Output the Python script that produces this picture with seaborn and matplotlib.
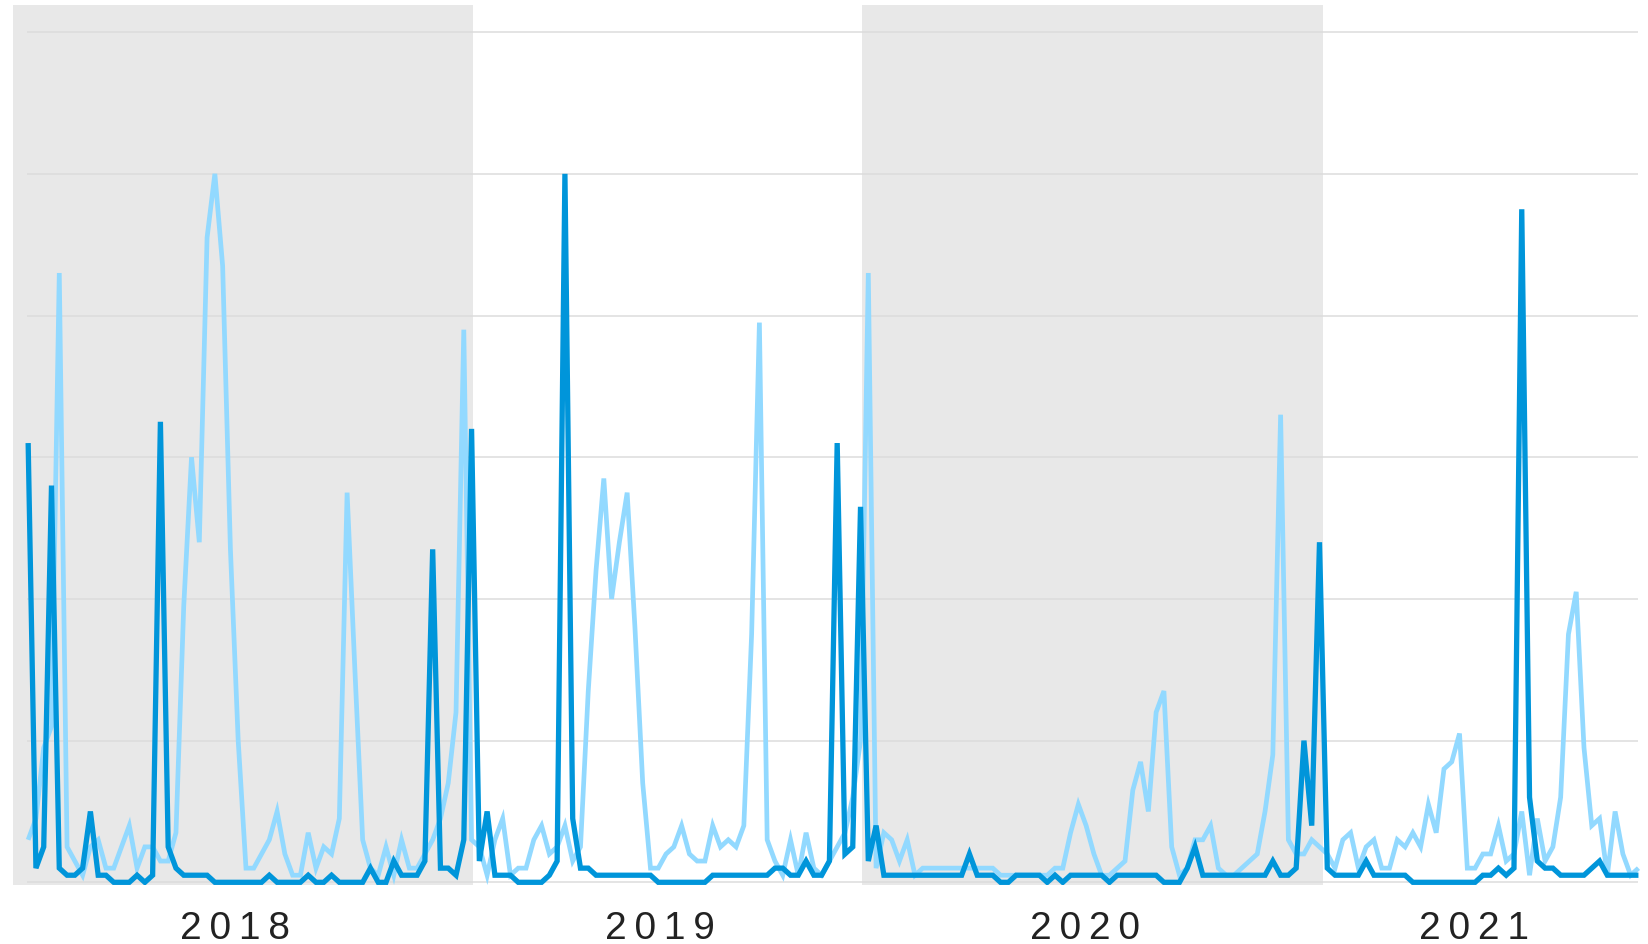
import numpy as np
import pandas as pd
import matplotlib
matplotlib.use("Agg")
import matplotlib.pyplot as plt
import matplotlib.transforms as mtransforms
import seaborn as sns

# weekly interest (0-100), one value per week
light_series = [
    6, 9, 19, 22, 86, 5, 3, 1, 5, 6,
    2, 2, 5, 8, 2, 5, 5, 3, 3, 7,
    39, 60, 48, 91, 100, 87, 47, 20, 2, 2,
    4, 6, 10, 4, 1, 1, 7, 2, 5, 4,
    9, 55, 30, 6, 2, 1, 5, 1, 6, 2,
    2, 4, 6, 9, 14, 24, 78, 6, 5, 1,
    6, 9, 1, 2, 2, 6, 8, 4, 5, 8,
    3, 5, 27, 44, 57, 40, 48, 55, 36, 14,
    2, 2, 4, 5, 8, 4, 3, 3, 8, 5,
    6, 5, 8, 35, 79, 6, 3, 1, 6, 1,
    7, 2, 1, 3, 5, 7, 12, 20, 86, 2,
    7, 6, 3, 6, 1, 2, 2, 2, 2, 2,
    2, 2, 2, 2, 2, 1, 1, 1, 1, 1,
    1, 1, 2, 2, 7, 11, 8, 4, 1, 1,
    2, 3, 13, 17, 10, 24, 27, 5, 1, 2,
    6, 6, 8, 2, 1, 1, 2, 3, 4, 10,
    18, 66, 6, 4, 4, 6, 5, 4, 2, 6,
    7, 2, 5, 6, 2, 2, 6, 5, 7, 5,
    11, 7, 16, 17, 21, 2, 2, 4, 4, 8,
    3, 4, 10, 1, 9, 3, 5, 12, 35, 41,
    19, 8, 9, 1, 10, 4, 1, 2,
]

dark_series = [
    62, 2, 5, 56, 2, 1, 1, 2, 10, 1,
    1, 0, 0, 0, 1, 0, 1, 65, 5, 2,
    1, 1, 1, 1, 0, 0, 0, 0, 0, 0,
    0, 1, 0, 0, 0, 0, 1, 0, 0, 1,
    0, 0, 0, 0, 2, 0, 0, 3, 1, 1,
    1, 3, 47, 2, 2, 1, 6, 64, 3, 10,
    1, 1, 1, 0, 0, 0, 0, 1, 3, 100,
    9, 2, 2, 1, 1, 1, 1, 1, 1, 1,
    1, 0, 0, 0, 0, 0, 0, 0, 1, 1,
    1, 1, 1, 1, 1, 1, 2, 2, 1, 1,
    3, 1, 1, 3, 62, 4, 5, 53, 3, 8,
    1, 1, 1, 1, 1, 1, 1, 1, 1, 1,
    1, 4, 1, 1, 1, 0, 0, 1, 1, 1,
    1, 0, 1, 0, 1, 1, 1, 1, 1, 0,
    1, 1, 1, 1, 1, 1, 0, 0, 0, 2,
    5, 1, 1, 1, 1, 1, 1, 1, 1, 1,
    3, 1, 1, 2, 20, 8, 48, 2, 1, 1,
    1, 1, 3, 1, 1, 1, 1, 1, 0, 0,
    0, 0, 0, 0, 0, 0, 0, 1, 1, 2,
    1, 2, 95, 12, 3, 2, 2, 1, 1, 1,
    1, 2, 3, 1, 1, 1, 1, 1,
]

years = ["2018", "2019", "2020", "2021"]
# season blocks in week units (gray, white, gray, white)
season_edges = [-2.0, 57.2, 107.2, 166.4, 207.2]

n = len(dark_series)
weeks = np.arange(n)
df = pd.DataFrame({
    "week": np.concatenate([weeks, weeks]),
    "value": light_series + dark_series,
    "series": ["light"] * n + ["dark"] * n,
})

sns.set_theme(style="white")
plt.rcParams["font.family"] = ["Liberation Sans", "DejaVu Sans"]

W, H = 1649, 945
fig = plt.figure(figsize=(W / 100, H / 100), dpi=100)
ax = fig.add_axes([12.6 / W, (H - 886) / H, (1640 - 12.6) / W, (886 - 6) / H])

# alternating shaded bands
for k in range(0, len(season_edges) - 1, 2):
    ax.axvspan(season_edges[k], season_edges[k + 1], color="#e8e8e8", lw=0, zorder=0)

# horizontal grid
ax.hlines(np.arange(0, 121, 20), weeks[0] - 0.2, weeks[-1], color="#dcdcdc", lw=1.1, zorder=1)

n_before = len(ax.get_lines())
sns.lineplot(data=df, x="week", y="value", hue="series", hue_order=["light", "dark"],
             palette={"light": "#92d9ff", "dark": "#0095da"}, estimator=None,
             legend=False, ax=ax, zorder=3)

# thicker strokes like the original (light drawn first, dark second)
for line, w in zip(ax.get_lines()[n_before:], [3.4, 3.8]):
    line.set_linewidth(w)
    line.set_solid_joinstyle("miter")
    line.set_solid_capstyle("butt")

ax.set_xlim(season_edges[0], season_edges[-1])
ax.set_ylim(-0.38, 123.83)
ax.set_xticks([])
ax.set_yticks([])
ax.set_xlabel("")
ax.set_ylabel("")
for s in ax.spines.values():
    s.set_visible(False)
ax.patch.set_alpha(0)

# year labels under each band, letter-spaced
trans = mtransforms.blended_transform_factory(ax.transData, fig.transFigure)
for k, yr in enumerate(years):
    mid = (season_edges[k] + season_edges[k + 1]) / 2 - 1.0
    ax.text(mid, (H - 939) / H, "\u2009".join(yr), transform=trans, ha="center",
            va="baseline", fontsize=28, color="#222222")

fig.savefig("out.png", dpi=100, facecolor="white")
